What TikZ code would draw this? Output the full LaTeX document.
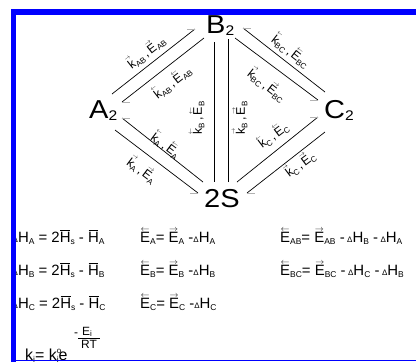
\documentclass[tikz,border=0pt]{standalone}
\usepackage{fontspec}
\setmainfont{Liberation Sans}
\newfontfamily\widefont[FakeStretch=1.12]{Liberation Sans}
\usepackage{graphicx}
\definecolor{frameblue}{RGB}{0,0,255}
\newcommand\sbs[1]{\raisebox{-2.5pt}{\fontsize{8}{8}\selectfont #1}}
\newcommand\ovr[4]{\vbox{\offinterlineskip\halign{\hfil##\hfil\cr\resizebox{#3}{#4}{$#1$}\cr\noalign{\kern0.6pt}#2\cr}}}
\newcommand\lab[2]{\ovr{#1}{k}{6pt}{2.6pt}\sbs{#2}\,,\,\ovr{#1}{E}{7pt}{2.6pt}\sbs{#2}}
\newcommand\El{\ovr{\leftarrow}{E}{9pt}{3pt}}
\newcommand\Er{\ovr{\rightarrow}{E}{9pt}{3pt}}
\newcommand\Hb{\vbox{\offinterlineskip\halign{\hfil##\hfil\cr\rule{10pt}{0.8pt}\cr\noalign{\kern1.2pt}H\cr}}}
\newcommand\dl{{\fontsize{8}{8}\selectfont Δ}}
\newcommand\sbsq[1]{\raisebox{-3pt}{\fontsize{8.5}{8.5}\selectfont #1}}
\begin{document}
\begin{tikzpicture}[x=1bp,y=-1bp,
  lbl/.style={font=\fontsize{12.5}{12.5}\selectfont, inner sep=0pt},
  edge/.style={line width=0.7pt},
  barb/.style={gray!60, line width=0.9pt},
  big/.style={font=\widefont\fontsize{26}{26}\selectfont, inner sep=0pt, anchor=base west},
  eq/.style={font=\fontsize{15}{15}\selectfont, inner sep=0pt, anchor=base west}]
\useasboundingbox (0,0) rectangle (416,362);
\fill[white] (0,0) rectangle (416,362);
% species
\node[big] (B) at (206,33) {B\raisebox{-3pt}{\fontsize{14}{14}\selectfont 2}};
\node[big] (A) at (89,118) {A\raisebox{-3pt}{\fontsize{14}{14}\selectfont 2}};
\node[big] (C) at (324,118) {C\raisebox{-3pt}{\fontsize{14}{14}\selectfont 2}};
\node[big] (S) at (204,207) {2S};
% connector end points
\coordinate (ab1) at (112,94);  \coordinate (ab2) at (195,29);
\coordinate (ba1) at (204,38);  \coordinate (ba2) at (122,102);
\coordinate (cb1) at (325,92);  \coordinate (cb2) at (243,28);
\coordinate (bc1) at (235,38);  \coordinate (bc2) at (318,100);
\coordinate (sc1) at (237,182); \coordinate (sc2) at (318,117);
\coordinate (cs1) at (325,132); \coordinate (cs2) at (247,193);
\coordinate (sa1) at (203,182); \coordinate (sa2) at (122,118);
\coordinate (as1) at (115,130); \coordinate (as2) at (198,193);
\coordinate (bs1) at (214,42);  \coordinate (bs2) at (214,182);
\coordinate (sb1) at (228,182); \coordinate (sb2) at (228,39);
\draw[edge] (ab1) -- (ab2); \draw[barb] (ab2) -- ++(-8,0);
\draw[edge] (ba1) -- (ba2); \draw[barb] (ba2) -- ++(8,0);
\draw[edge] (cb1) -- (cb2); \draw[barb] (cb2) -- ++(8,0);
\draw[edge] (bc1) -- (bc2); \draw[barb] (bc2) -- ++(-8,0);
\draw[edge] (sc1) -- (sc2); \draw[barb] (sc2) -- ++(-8,0);
\draw[edge] (cs1) -- (cs2); \draw[barb] (cs2) -- ++(8,0);
\draw[edge] (sa1) -- (sa2); \draw[barb] (sa2) -- ++(8,0);
\draw[edge] (as1) -- (as2); \draw[barb] (as2) -- ++(-8,0);
\draw[edge] (bs1) -- (bs2);
\draw[edge] (sb1) -- (sb2);
% labels
\node[lbl, rotate=38] (l1) at (146,52) {\lab{\rightarrow}{AB}};
\node[lbl, rotate=38] (l2) at (172,82) {\lab{\leftarrow}{AB}};
\node[lbl, rotate=-38] (l3) at (291,51) {\lab{\leftarrow}{BC}};
\node[lbl, rotate=-38] (l4) at (267,85) {\lab{\rightarrow}{BC}};
\node[lbl, rotate=90] (l5) at (197,118) {\lab{\leftarrow}{B}};
\node[lbl, rotate=90] (l6) at (240,118) {\lab{\rightarrow}{B}};
\node[lbl, rotate=-37] (l7) at (166,145) {\lab{\leftarrow}{A}};
\node[lbl, rotate=-37] (l8) at (142,170) {\lab{\rightarrow}{A}};
\node[lbl, rotate=37] (l9) at (273,135) {\lab{\leftarrow}{C}};
\node[lbl, rotate=37] (l10) at (300,164) {\lab{\rightarrow}{C}};
% equations
\node[eq] (e11) at (12.5,242) {\dl H\sbsq{A} = 2\Hb\sbsq{s} - \Hb\sbsq{A}};
\node[eq] (e12) at (140,242) {\El\sbsq{A}= \Er\sbsq{A} -\dl H\sbsq{A}};
\node[eq] (e13) at (280,242) {\El\sbsq{AB}= \Er\sbsq{AB} -\,\dl H\sbsq{B} -\,\dl H\sbsq{A}};
\node[eq] (e21) at (12.5,275) {\dl H\sbsq{B} = 2\Hb\sbsq{s} - \Hb\sbsq{B}};
\node[eq] (e22) at (140,275) {\El\sbsq{B}= \Er\sbsq{B} -\dl H\sbsq{B}};
\node[eq] (e23) at (280,275) {\El\sbsq{BC}= \Er\sbsq{BC} -\,\dl H\sbsq{C} -\,\dl H\sbsq{B}};
\node[eq] (e31) at (12.5,308) {\dl H\sbsq{C} = 2\Hb\sbsq{s} - \Hb\sbsq{C}};
\node[eq] (e32) at (140,308) {\El\sbsq{C}= \Er\sbsq{C} -\dl H\sbsq{C}};
\node[eq, font=\fontsize{16}{16}\selectfont] (e41) at (25,360) {k\sbsq{i}= k\rlap{\raisebox{7pt}{\fontsize{8}{8}\selectfont o}}\sbsq{i}e};
\node[font=\fontsize{12}{12}\selectfont, inner sep=0pt, anchor=base] (ex1) at (76,336) {-};
\node[font=\fontsize{12}{12}\selectfont, inner sep=0pt, anchor=base] (ex2) at (87,335) {E\raisebox{-1.5pt}{\fontsize{8}{8}\selectfont i}};
\node[font=\fontsize{12}{12}\selectfont, inner sep=0pt, anchor=base] (ex3) at (89,348.5) {RT};
\draw[line width=0.7pt] (78,338.8) -- (100,338.8);
% frame
\fill[frameblue] (11,9) rectangle (416,14.5);
\fill[frameblue] (11,9) rectangle (16,362);
\fill[frameblue] (11,359.6) rectangle (416,361.2);
\end{tikzpicture}
\end{document}
